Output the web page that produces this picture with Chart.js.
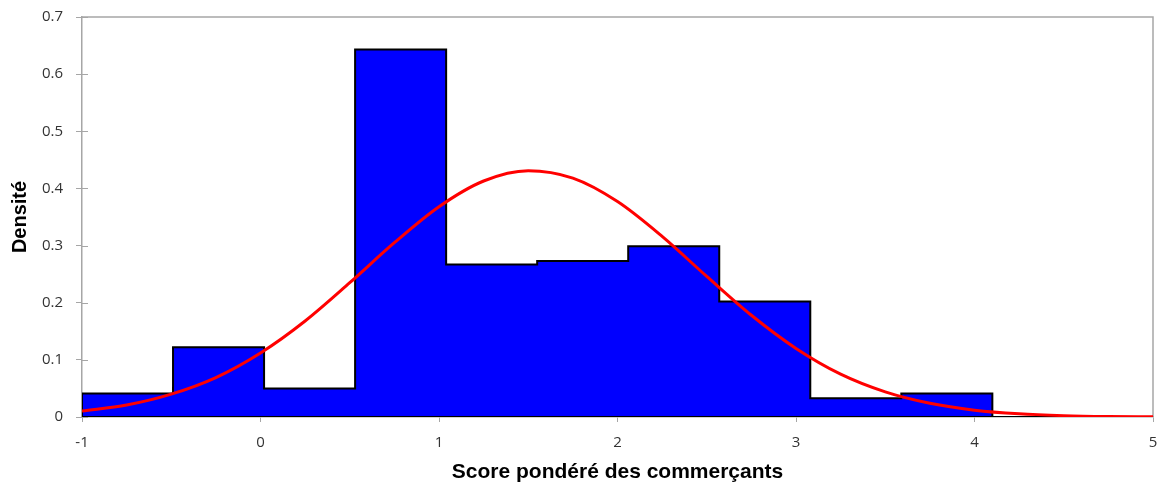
<!DOCTYPE html>
<html>
<head>
<meta charset="utf-8">
<script src="https://cdn.jsdelivr.net/npm/chart.js@4/dist/chart.umd.min.js"></script>
<style>
  html, body { margin: 0; padding: 0; background: #fff; }
  #wrap { width: 1163px; height: 486px; }
</style>
</head>
<body>
<div id="wrap"><canvas id="myChart"></canvas></div>
<script>
// histogram bins (class edges) and the density of each class
const binEdges = [-1, -0.49, 0.02, 0.53, 1.04, 1.55, 2.06, 2.57, 3.08, 3.59, 4.10, 4.61];
const densities = [0.041, 0.122, 0.050, 0.643, 0.267, 0.273, 0.299, 0.202, 0.033, 0.041, 0];

// fitted normal density, read every 0.25
const curveX = [-1, -0.75, -0.5, -0.25, 0, 0.25, 0.5, 0.75, 1, 1.25, 1.5, 1.75, 2,
                2.25, 2.5, 2.75, 3, 3.25, 3.5, 3.75, 4, 4.25, 4.5, 4.75, 5];
const curveY = [0.0106, 0.021, 0.040, 0.069, 0.112, 0.168, 0.235, 0.305, 0.368, 0.413, 0.431, 0.418, 0.377,
                0.316, 0.246, 0.178, 0.120, 0.075, 0.044, 0.024, 0.012, 0.0056, 0.0024, 0.0009, 0.0003];

const xTicks = [-1, 0, 1, 2, 3, 4, 5];
const yTicks = [0, 0.1, 0.2, 0.3, 0.4, 0.5, 0.6, 0.7];

// stepped outline: one point per left edge, closed on the last edge
const histPoints = [{x: binEdges[0], y: 0}];
densities.forEach((d, i) => histPoints.push({x: binEdges[i], y: d}));
histPoints.push({x: binEdges[binEdges.length - 1], y: 0});

const baseLine = [{x: binEdges[0], y: 0}, {x: binEdges[binEdges.length - 1], y: 0}];
const curvePoints = curveX.map((x, i) => ({x: x, y: curveY[i]}));

const axisGrey = '#a6a6a6';

// grey frame on top/right and the inner half of the y tick marks
const plotFrame = {
  id: 'plotFrame',
  beforeDatasetsDraw(chart) {
    const {ctx, chartArea: a, scales} = chart;
    ctx.save();
    ctx.strokeStyle = axisGrey;
    ctx.lineWidth = 1.5;
    ctx.beginPath();
    ctx.moveTo(a.left, a.top);
    ctx.lineTo(a.right, a.top);
    ctx.lineTo(a.right, a.bottom);
    ctx.stroke();
    ctx.lineWidth = 1;
    yTicks.forEach(v => {
      const py = Math.round(scales.y.getPixelForValue(v)) + 0.5;
      ctx.beginPath();
      ctx.moveTo(a.left, py);
      ctx.lineTo(a.left + 6, py);
      ctx.stroke();
    });
    ctx.restore();
  }
};

var ctx = document.getElementById('myChart').getContext('2d');
var myChart = new Chart(ctx, {
  type: 'scatter',
  data: {
    datasets: [
      {
        type: 'line',
        label: 'Loi normale',
        data: curvePoints,
        borderColor: '#ff0000',
        borderWidth: 3,
        pointRadius: 0,
        cubicInterpolationMode: 'monotone',
        fill: false
      },
      {
        type: 'line',
        label: 'base',
        data: baseLine,
        borderColor: '#000000',
        borderWidth: 2,
        pointRadius: 0,
        fill: false
      },
      {
        type: 'line',
        label: 'Densité',
        data: histPoints,
        stepped: 'before',
        borderColor: '#000000',
        borderWidth: 2,
        backgroundColor: '#0000ff',
        pointRadius: 0,
        fill: 'origin'
      }
    ]
  },
  options: {
    responsive: true,
    maintainAspectRatio: false,
    animation: false,
    layout: { padding: { top: 17, right: 10, left: 0, bottom: 0 } },
    plugins: {
      legend: { display: false },
      tooltip: { enabled: false }
    },
    scales: {
      x: {
        type: 'linear',
        min: -1,
        max: 5,
        // fixed axis band; tick padding must not widen the outer margins
        afterFit: s => { s.height = 69; s.paddingRight = 0; s.paddingLeft = 0; },
        afterBuildTicks: s => { s.ticks = xTicks.map(v => ({value: v})); },
        border: { color: axisGrey, width: 1.5 },
        grid: { drawOnChartArea: false, color: axisGrey, tickLength: 5 },
        ticks: {
          padding: 12,
          color: '#333333',
          font: { family: 'Open Sans', size: 15 }
        },
        title: {
          display: true,
          text: 'Score pondéré des commerçants',
          color: '#000',
          padding: { top: 0, bottom: 1 },
          font: { family: 'Liberation Sans', size: 21, weight: 'bold' }
        }
      },
      y: {
        min: 0,
        max: 0.7,
        afterFit: s => { s.width = 82; s.paddingTop = 0; s.paddingBottom = 0; },
        afterBuildTicks: s => { s.ticks = yTicks.map(v => ({value: v})); },
        border: { color: axisGrey, width: 1.5 },
        grid: { drawOnChartArea: false, color: axisGrey, tickLength: 6 },
        ticks: {
          padding: 13,
          color: '#333333',
          font: { family: 'Open Sans', size: 15 },
          callback: v => String(+v.toFixed(1))
        },
        title: {
          display: true,
          text: 'Densité',
          color: '#000',
          padding: { top: 8, bottom: 0 },
          font: { family: 'Liberation Sans', size: 20, weight: 'bold' }
        }
      }
    }
  },
  plugins: [plotFrame]
});
</script>
</body>
</html>
